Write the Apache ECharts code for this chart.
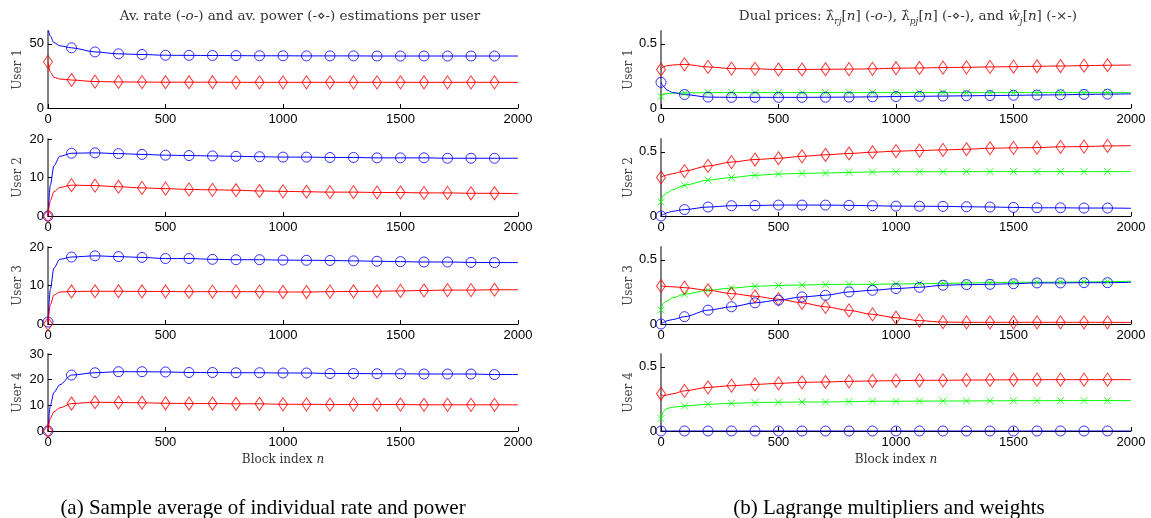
<!DOCTYPE html>
<html>
<head>
<meta charset="utf-8">
<title>Rate, power and dual prices per user</title>
<script src="https://cdn.jsdelivr.net/npm/echarts@6/dist/echarts.min.js"></script>
<style>
  html, body { margin: 0; padding: 0; background: #fff; }
  #chart { width: 1151px; height: 518px; }
</style>
</head>
<body>
<div id="chart"></div>
<script>
// block indices where values were read (markers every 100)
const blockIdx = [0, 10, 25, 50, 100, 200, 300, 400, 500, 600, 700, 800, 900, 1000,
  1100, 1200, 1300, 1400, 1500, 1600, 1700, 1800, 1900, 2000]

// (a) average rate / power per user
const rate1 = [62, 56, 51, 48.5, 46.9, 43.7, 42.2, 41.7, 41.1, 41.0, 40.9, 40.8, 40.7, 40.7, 40.6, 40.6, 40.6, 40.5, 40.5, 40.5, 40.5, 40.5, 40.5, 40.5]
const power1 = [36, 28, 24, 22.6, 21.8, 20.6, 20.3, 20.2, 20.1, 20.1, 20.1, 20.0, 20.0, 20.0, 20.0, 20.0, 20.0, 20.0, 20.0, 20.0, 20.0, 20.0, 20.0, 20.0]
const rate2 = [0, 8, 13, 15.5, 16.3, 16.4, 16.2, 16.0, 15.8, 15.7, 15.6, 15.5, 15.4, 15.3, 15.3, 15.2, 15.2, 15.1, 15.1, 15.1, 15.0, 15.0, 15.0, 15.0]
const power2 = [0, 4, 6.3, 7.4, 8.0, 7.9, 7.6, 7.3, 7.1, 6.9, 6.8, 6.7, 6.5, 6.4, 6.3, 6.2, 6.2, 6.1, 6.1, 6.0, 6.0, 5.9, 5.9, 5.8]
const rate3 = [0.5, 9, 14.5, 16.8, 17.4, 17.7, 17.5, 17.3, 17.0, 17.0, 16.8, 16.7, 16.7, 16.6, 16.55, 16.5, 16.4, 16.3, 16.2, 16.1, 16.1, 16.0, 15.95, 15.95]
const power3 = [0, 5, 7.5, 8.3, 8.45, 8.5, 8.5, 8.45, 8.45, 8.4, 8.4, 8.4, 8.4, 8.3, 8.3, 8.4, 8.45, 8.5, 8.6, 8.7, 8.8, 8.8, 8.9, 8.9]
const rate4 = [0, 10, 15, 18, 21.8, 22.7, 23.1, 23.1, 23.0, 22.8, 22.8, 22.7, 22.7, 22.6, 22.6, 22.4, 22.4, 22.3, 22.3, 22.2, 22.2, 22.2, 22.0, 22.0]
const power4 = [0, 5, 7.5, 9, 10.7, 11.2, 11.1, 11.0, 10.8, 10.7, 10.7, 10.6, 10.6, 10.4, 10.4, 10.3, 10.3, 10.3, 10.3, 10.2, 10.2, 10.2, 10.2, 10.2]

// (b) dual prices lambda_r (blue), lambda_p (red), weights w (green)
const lamR1 = [0.20, 0.17, 0.14, 0.12, 0.105, 0.085, 0.083, 0.083, 0.083, 0.083, 0.084, 0.085, 0.087, 0.089, 0.091, 0.093, 0.095, 0.097, 0.099, 0.101, 0.103, 0.106, 0.108, 0.11]
const lamP1 = [0.30, 0.32, 0.33, 0.335, 0.34, 0.32, 0.307, 0.305, 0.30, 0.30, 0.302, 0.303, 0.305, 0.31, 0.312, 0.315, 0.317, 0.32, 0.322, 0.325, 0.327, 0.33, 0.333, 0.335]
const w1 = [0.09, 0.105, 0.112, 0.116, 0.117, 0.12, 0.12, 0.12, 0.12, 0.12, 0.12, 0.12, 0.12, 0.12, 0.12, 0.12, 0.12, 0.12, 0.12, 0.12, 0.12, 0.12, 0.12, 0.12]
const lamR2 = [0, 0.012, 0.025, 0.037, 0.05, 0.07, 0.08, 0.082, 0.085, 0.085, 0.085, 0.083, 0.08, 0.077, 0.076, 0.075, 0.072, 0.07, 0.067, 0.064, 0.064, 0.062, 0.062, 0.06]
const lamP2 = [0.30, 0.31, 0.32, 0.33, 0.35, 0.39, 0.42, 0.44, 0.45, 0.465, 0.477, 0.487, 0.497, 0.505, 0.51, 0.515, 0.52, 0.528, 0.531, 0.533, 0.539, 0.541, 0.546, 0.548]
const w2 = [0.108, 0.16, 0.18, 0.205, 0.24, 0.28, 0.30, 0.317, 0.327, 0.332, 0.335, 0.34, 0.343, 0.345, 0.345, 0.345, 0.346, 0.346, 0.346, 0.346, 0.346, 0.346, 0.346, 0.346]
const lamR3 = [0, 0.012, 0.025, 0.035, 0.057, 0.108, 0.134, 0.165, 0.186, 0.211, 0.224, 0.25, 0.263, 0.276, 0.286, 0.302, 0.307, 0.309, 0.314, 0.32, 0.32, 0.322, 0.322, 0.325]
const lamP3 = [0.296, 0.294, 0.292, 0.29, 0.283, 0.263, 0.237, 0.216, 0.193, 0.165, 0.134, 0.106, 0.075, 0.049, 0.026, 0.015, 0.013, 0.013, 0.013, 0.013, 0.013, 0.013, 0.013, 0.012]
const w3 = [0.108, 0.16, 0.18, 0.205, 0.232, 0.263, 0.28, 0.294, 0.30, 0.304, 0.307, 0.309, 0.309, 0.312, 0.314, 0.317, 0.32, 0.322, 0.325, 0.325, 0.327, 0.327, 0.33, 0.333]
const lamR4 = [0, 0, 0, 0, 0, 0, 0, 0, 0, 0, 0, 0, 0, 0, 0, 0, 0, 0, 0, 0, 0, 0, 0, 0]
const lamP4 = [0.29, 0.275, 0.28, 0.29, 0.313, 0.34, 0.353, 0.363, 0.371, 0.379, 0.382, 0.387, 0.39, 0.392, 0.395, 0.395, 0.397, 0.398, 0.399, 0.4, 0.4, 0.4, 0.4, 0.4]
const w4 = [0.097, 0.15, 0.175, 0.185, 0.195, 0.208, 0.216, 0.221, 0.224, 0.226, 0.226, 0.229, 0.232, 0.232, 0.233, 0.234, 0.234, 0.235, 0.236, 0.236, 0.237, 0.237, 0.237, 0.237]

// y axis ranges: [max, interval]
const leftYRange = [[60, 50], [20, 10], [20, 10], [30, 10]]
const rightYRange = [[0.6, 0.5], [0.6, 0.5], [0.6, 0.5], [0.6, 0.5]]
const userNames = ['User 1', 'User 2', 'User 3', 'User 4']

const BLUE = '#0000ff'
const RED = '#ff0000'
const GREEN = '#00ff00'
const SERIF = 'DejaVu Serif'
const TIMES = 'Liberation Serif'
const SANS = 'Liberation Sans'

const MARK = {
  circle: { symbol: 'circle', size: 10 },
  diamond: { symbol: 'path://M5,0L10,9L5,18L0,9Z', size: [9, 13] },
  cross: { symbol: 'path://M0,0L10,10M10,0L0,10', size: 7 }
}

const gridTops = [31, 139, 247, 354]
const gridHeight = 77

const grids = []
const xAxes = []
const yAxes = []
const series = []

const addPanel = (left, ranges) => {
  gridTops.forEach((top, i) => {
    const idx = grids.length
    grids.push({ left: left, top: top, width: 470, height: gridHeight })
    const isBottom = i === 3
    const [yMax, yStep] = ranges[i]
    xAxes.push({
      type: 'value', gridIndex: idx, min: 0, max: 2000, interval: 500,
      axisLine: { show: true, onZero: false, lineStyle: { color: '#000', width: 1 } },
      axisTick: { show: true, inside: true, length: 4, lineStyle: { color: '#000' } },
      axisLabel: { color: '#000', fontFamily: SANS, fontSize: 13, margin: 5, formatter: v => String(v) },
      splitLine: { show: false },
      name: isBottom ? '{a|Block index }{b|n}' : '',
      nameLocation: 'middle',
      nameGap: 23,
      nameTextStyle: {
        rich: {
          a: { fontFamily: SERIF, fontSize: 12, color: '#333' },
          b: { fontFamily: SERIF, fontSize: 12, fontStyle: 'italic', color: '#333' }
        }
      }
    })
    // max is only labelled when it sits on a tick
    const maxOnTick = Math.abs(yMax / yStep - Math.round(yMax / yStep)) < 1e-9
    yAxes.push({
      type: 'value', gridIndex: idx, min: 0, max: yMax, interval: yStep,
      axisLine: { show: true, onZero: false, lineStyle: { color: '#808080', width: 2 } },
      axisTick: { show: true, inside: true, length: 4, lineStyle: { color: '#000' } },
      axisLabel: { color: '#000', fontFamily: SANS, fontSize: 13, margin: 4, showMaxLabel: maxOnTick },
      splitLine: { show: false },
      name: userNames[i],
      nameLocation: 'middle',
      nameGap: 24,
      nameTextStyle: { fontFamily: SERIF, fontSize: 12, color: '#444' }
    })
  })
}

// one curve = smooth line + open markers at every 100 blocks
const addCurve = (idx, values, color, mark) => {
  const pts = blockIdx.map((n, k) => [n, values[k]])
  series.push({
    type: 'line', xAxisIndex: idx, yAxisIndex: idx, data: pts,
    showSymbol: false, smooth: 0.3, smoothMonotone: 'x',
    lineStyle: { color: color, width: 1 }, z: 2, silent: true
  })
  series.push({
    type: 'scatter', xAxisIndex: idx, yAxisIndex: idx,
    data: pts.filter(p => p[0] % 100 === 0 && p[0] < 2000),
    symbol: mark.symbol, symbolSize: mark.size,
    itemStyle: { color: 'rgba(0,0,0,0)', borderColor: color, borderWidth: 1 },
    z: 3, silent: true
  })
}

addPanel(48, leftYRange)
addPanel(661, rightYRange)

const rates = [rate1, rate2, rate3, rate4]
const powers = [power1, power2, power3, power4]
const lamRs = [lamR1, lamR2, lamR3, lamR4]
const lamPs = [lamP1, lamP2, lamP3, lamP4]
const ws = [w1, w2, w3, w4]

for (let i = 0; i < 4; i++) {
  addCurve(i, rates[i], BLUE, MARK.circle)
  addCurve(i, powers[i], RED, MARK.diamond)
  addCurve(i + 4, ws[i], GREEN, MARK.cross)
  addCurve(i + 4, lamPs[i], RED, MARK.diamond)
  addCurve(i + 4, lamRs[i], BLUE, MARK.circle)
}

// title text styles (serif, italic n/o, small subscripts)
const titleRich = {
  t: { fontFamily: SERIF, fontSize: 13.5, fontWeight: 'normal', color: '#333', lineHeight: 19 },
  i: { fontFamily: SERIF, fontSize: 13.5, fontWeight: 'normal', fontStyle: 'italic', color: '#333', lineHeight: 19 },
  s: { fontFamily: SERIF, fontSize: 9, fontWeight: 'normal', fontStyle: 'italic', color: '#333', lineHeight: 11, verticalAlign: 'bottom' }
}

const chart = echarts.init(document.getElementById('chart'), null, { renderer: 'canvas' })

chart.setOption({
  animation: false,
  backgroundColor: '#fff',
  title: [
    {
      text: '{t|Av. rate (-}{i|o}{t|-) and av. power (-⋄-) estimations per user}',
      left: 295, top: 2, textAlign: 'center',
      textStyle: { fontWeight: 'normal', rich: titleRich }
    },
    {
      text: '{t|Dual prices: λ̂}{s|rj}{t|[}{i|n}{t|] (-}{i|o}{t|-), λ̂}{s|pj}{t|[}{i|n}{t|] (-⋄-), and }{i|ŵ}{s|j}{t|[}{i|n}{t|] (-×-)}',
      left: 903, top: 2, textAlign: 'center',
      textStyle: { fontWeight: 'normal', rich: titleRich }
    },
    {
      text: '(a) Sample average of individual rate and power',
      left: 258, top: 493, textAlign: 'center',
      textStyle: { fontFamily: TIMES, fontSize: 21, fontWeight: 'normal', color: '#000' }
    },
    {
      text: '(b) Lagrange multipliers and weights',
      left: 884, top: 493, textAlign: 'center',
      textStyle: { fontFamily: TIMES, fontSize: 21, fontWeight: 'normal', color: '#000' }
    }
  ],
  grid: grids,
  xAxis: xAxes,
  yAxis: yAxes,
  series: series
})
</script>
</body>
</html>
